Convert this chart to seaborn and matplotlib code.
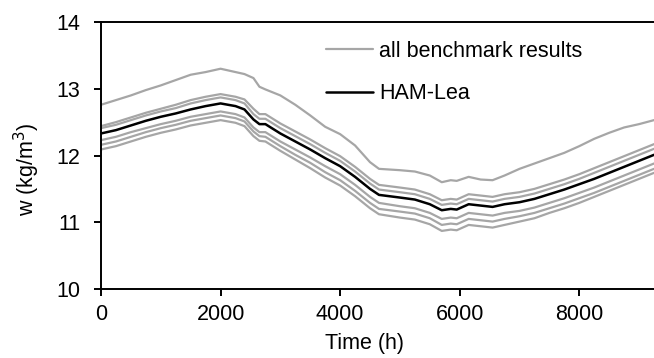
import matplotlib
matplotlib.use("Agg")
import matplotlib.pyplot as plt
import seaborn as sns
import pandas as pd

# ---- data ----
time_h = [0, 250, 500, 750, 1000, 1250, 1500, 1750, 2000, 2250,
          2400, 2550, 2650, 2750, 3000, 3250, 3500, 3750, 4000, 4250,
          4500, 4650, 5000, 5250, 5500, 5700, 5850, 5950, 6150, 6350,
          6550, 6750, 7000, 7250, 7500, 7750, 8000, 8250, 8500, 8750,
          9000, 9250]

ham_lea = [12.33, 12.38, 12.45, 12.52, 12.58, 12.63, 12.69, 12.74, 12.78, 12.74,
           12.69, 12.54, 12.47, 12.47, 12.33, 12.21, 12.09, 11.96, 11.84, 11.68,
           11.50, 11.41, 11.37, 11.34, 11.27, 11.18, 11.20, 11.19, 11.27, 11.25,
           11.23, 11.27, 11.30, 11.35, 11.42, 11.49, 11.57, 11.65, 11.74, 11.83,
           11.92, 12.01]

bench_1 = [12.76, 12.83, 12.90, 12.98, 13.05, 13.13, 13.21, 13.25, 13.30, 13.25,
           13.22, 13.16, 13.03, 12.99, 12.90, 12.76, 12.60, 12.43, 12.32, 12.15,
           11.90, 11.80, 11.78, 11.76, 11.70, 11.60, 11.63, 11.62, 11.68, 11.64,
           11.63, 11.70, 11.80, 11.88, 11.96, 12.04, 12.14, 12.25, 12.34, 12.42,
           12.47, 12.53]

bench_2 = [12.44, 12.50, 12.57, 12.64, 12.70, 12.76, 12.83, 12.88, 12.92, 12.88,
           12.84, 12.70, 12.62, 12.62, 12.48, 12.36, 12.24, 12.11, 11.99, 11.83,
           11.65, 11.56, 11.52, 11.49, 11.42, 11.33, 11.35, 11.34, 11.42, 11.40,
           11.38, 11.42, 11.45, 11.50, 11.57, 11.64, 11.72, 11.81, 11.90, 11.99,
           12.08, 12.17]

bench_3 = [12.41, 12.46, 12.53, 12.60, 12.66, 12.71, 12.78, 12.83, 12.87, 12.83,
           12.78, 12.62, 12.55, 12.55, 12.41, 12.29, 12.17, 12.04, 11.92, 11.76,
           11.58, 11.49, 11.45, 11.42, 11.35, 11.26, 11.28, 11.27, 11.35, 11.33,
           11.31, 11.35, 11.38, 11.43, 11.50, 11.57, 11.65, 11.74, 11.83, 11.92,
           12.01, 12.10]

bench_4 = [12.23, 12.28, 12.35, 12.41, 12.47, 12.52, 12.58, 12.62, 12.66, 12.62,
           12.57, 12.42, 12.35, 12.35, 12.21, 12.09, 11.97, 11.84, 11.72, 11.56,
           11.38, 11.29, 11.24, 11.21, 11.14, 11.05, 11.07, 11.06, 11.14, 11.12,
           11.10, 11.14, 11.17, 11.22, 11.29, 11.36, 11.44, 11.52, 11.61, 11.70,
           11.79, 11.88]

bench_5 = [12.16, 12.21, 12.28, 12.35, 12.41, 12.46, 12.52, 12.56, 12.60, 12.56,
           12.51, 12.36, 12.29, 12.28, 12.14, 12.01, 11.89, 11.75, 11.63, 11.47,
           11.29, 11.20, 11.16, 11.13, 11.06, 10.96, 10.98, 10.97, 11.05, 11.03,
           11.01, 11.05, 11.09, 11.14, 11.21, 11.28, 11.36, 11.44, 11.53, 11.62,
           11.71, 11.80]

bench_6 = [12.09, 12.14, 12.21, 12.28, 12.34, 12.39, 12.45, 12.49, 12.53, 12.49,
           12.44, 12.29, 12.22, 12.21, 12.07, 11.94, 11.81, 11.67, 11.55, 11.39,
           11.21, 11.12, 11.07, 11.04, 10.97, 10.87, 10.89, 10.88, 10.96, 10.94,
           10.92, 10.96, 11.01, 11.06, 11.14, 11.21, 11.29, 11.38, 11.47, 11.56,
           11.65, 11.74]

benchmarks = [bench_1, bench_2, bench_3, bench_4, bench_5, bench_6]

x_ticks = [0, 2000, 4000, 6000, 8000]
y_ticks = [10, 11, 12, 13, 14]

# ---- style ----
sns.set_style("ticks")
plt.rcParams["font.family"] = ["Liberation Sans", "DejaVu Sans"]
plt.rcParams["font.size"] = 15.5
for k in ["text.color", "axes.labelcolor", "xtick.color", "ytick.color",
          "axes.edgecolor"]:
    plt.rcParams[k] = "black"

GRAY = "#a6a6a6"

fig = plt.figure(figsize=(6.54, 3.58), dpi=100)
ax = fig.add_axes([101 / 654, 1 - 289 / 358, 1 - 101 / 654, (289 - 22) / 358])

for i, series in enumerate(benchmarks):
    df = pd.DataFrame({"t": time_h, "w": series})
    sns.lineplot(data=df, x="t", y="w", ax=ax, color=GRAY, linewidth=1.6,
                 label="all benchmark results" if i == 0 else "_nolegend_")

df_h = pd.DataFrame({"t": time_h, "w": ham_lea})
sns.lineplot(data=df_h, x="t", y="w", ax=ax, color="black", linewidth=1.8,
             label="HAM-Lea")

ax.set_xlim(0, 9250)
ax.set_ylim(10, 14)
ax.set_xticks(x_ticks)
ax.set_yticks(y_ticks)
ax.set_xticklabels([str(v) for v in x_ticks])
ax.set_yticklabels([str(v) for v in y_ticks])

for s in ["left", "bottom", "top"]:
    ax.spines[s].set_visible(True)
    ax.spines[s].set_linewidth(1.4)
    ax.spines[s].set_color("black")
ax.spines["right"].set_visible(False)
ax.tick_params(axis="both", direction="out", length=5, width=1.4,
               colors="black", labelsize=15.5)
ax.tick_params(axis="x", pad=6)
ax.tick_params(axis="y", pad=10)
ax.tick_params(top=False, right=False)

ax.set_xlabel("Time (h)", fontsize=15.5, color="black")
ax.set_ylabel("w (kg/m$^3$)", fontsize=15.5, color="black")
ax.xaxis.set_label_coords(0.476, -0.163)
ax.yaxis.set_label_coords(-0.106, 0.447)

leg = ax.legend(loc="upper left", bbox_to_anchor=(0.407, 0.93),
                frameon=False, fontsize=15.5, handlelength=2.2,
                handletextpad=0.25, labelspacing=1.0, borderpad=0,
                borderaxespad=0)
for t in leg.get_texts():
    t.set_color("black")

fig.savefig("out.png", dpi=100)
